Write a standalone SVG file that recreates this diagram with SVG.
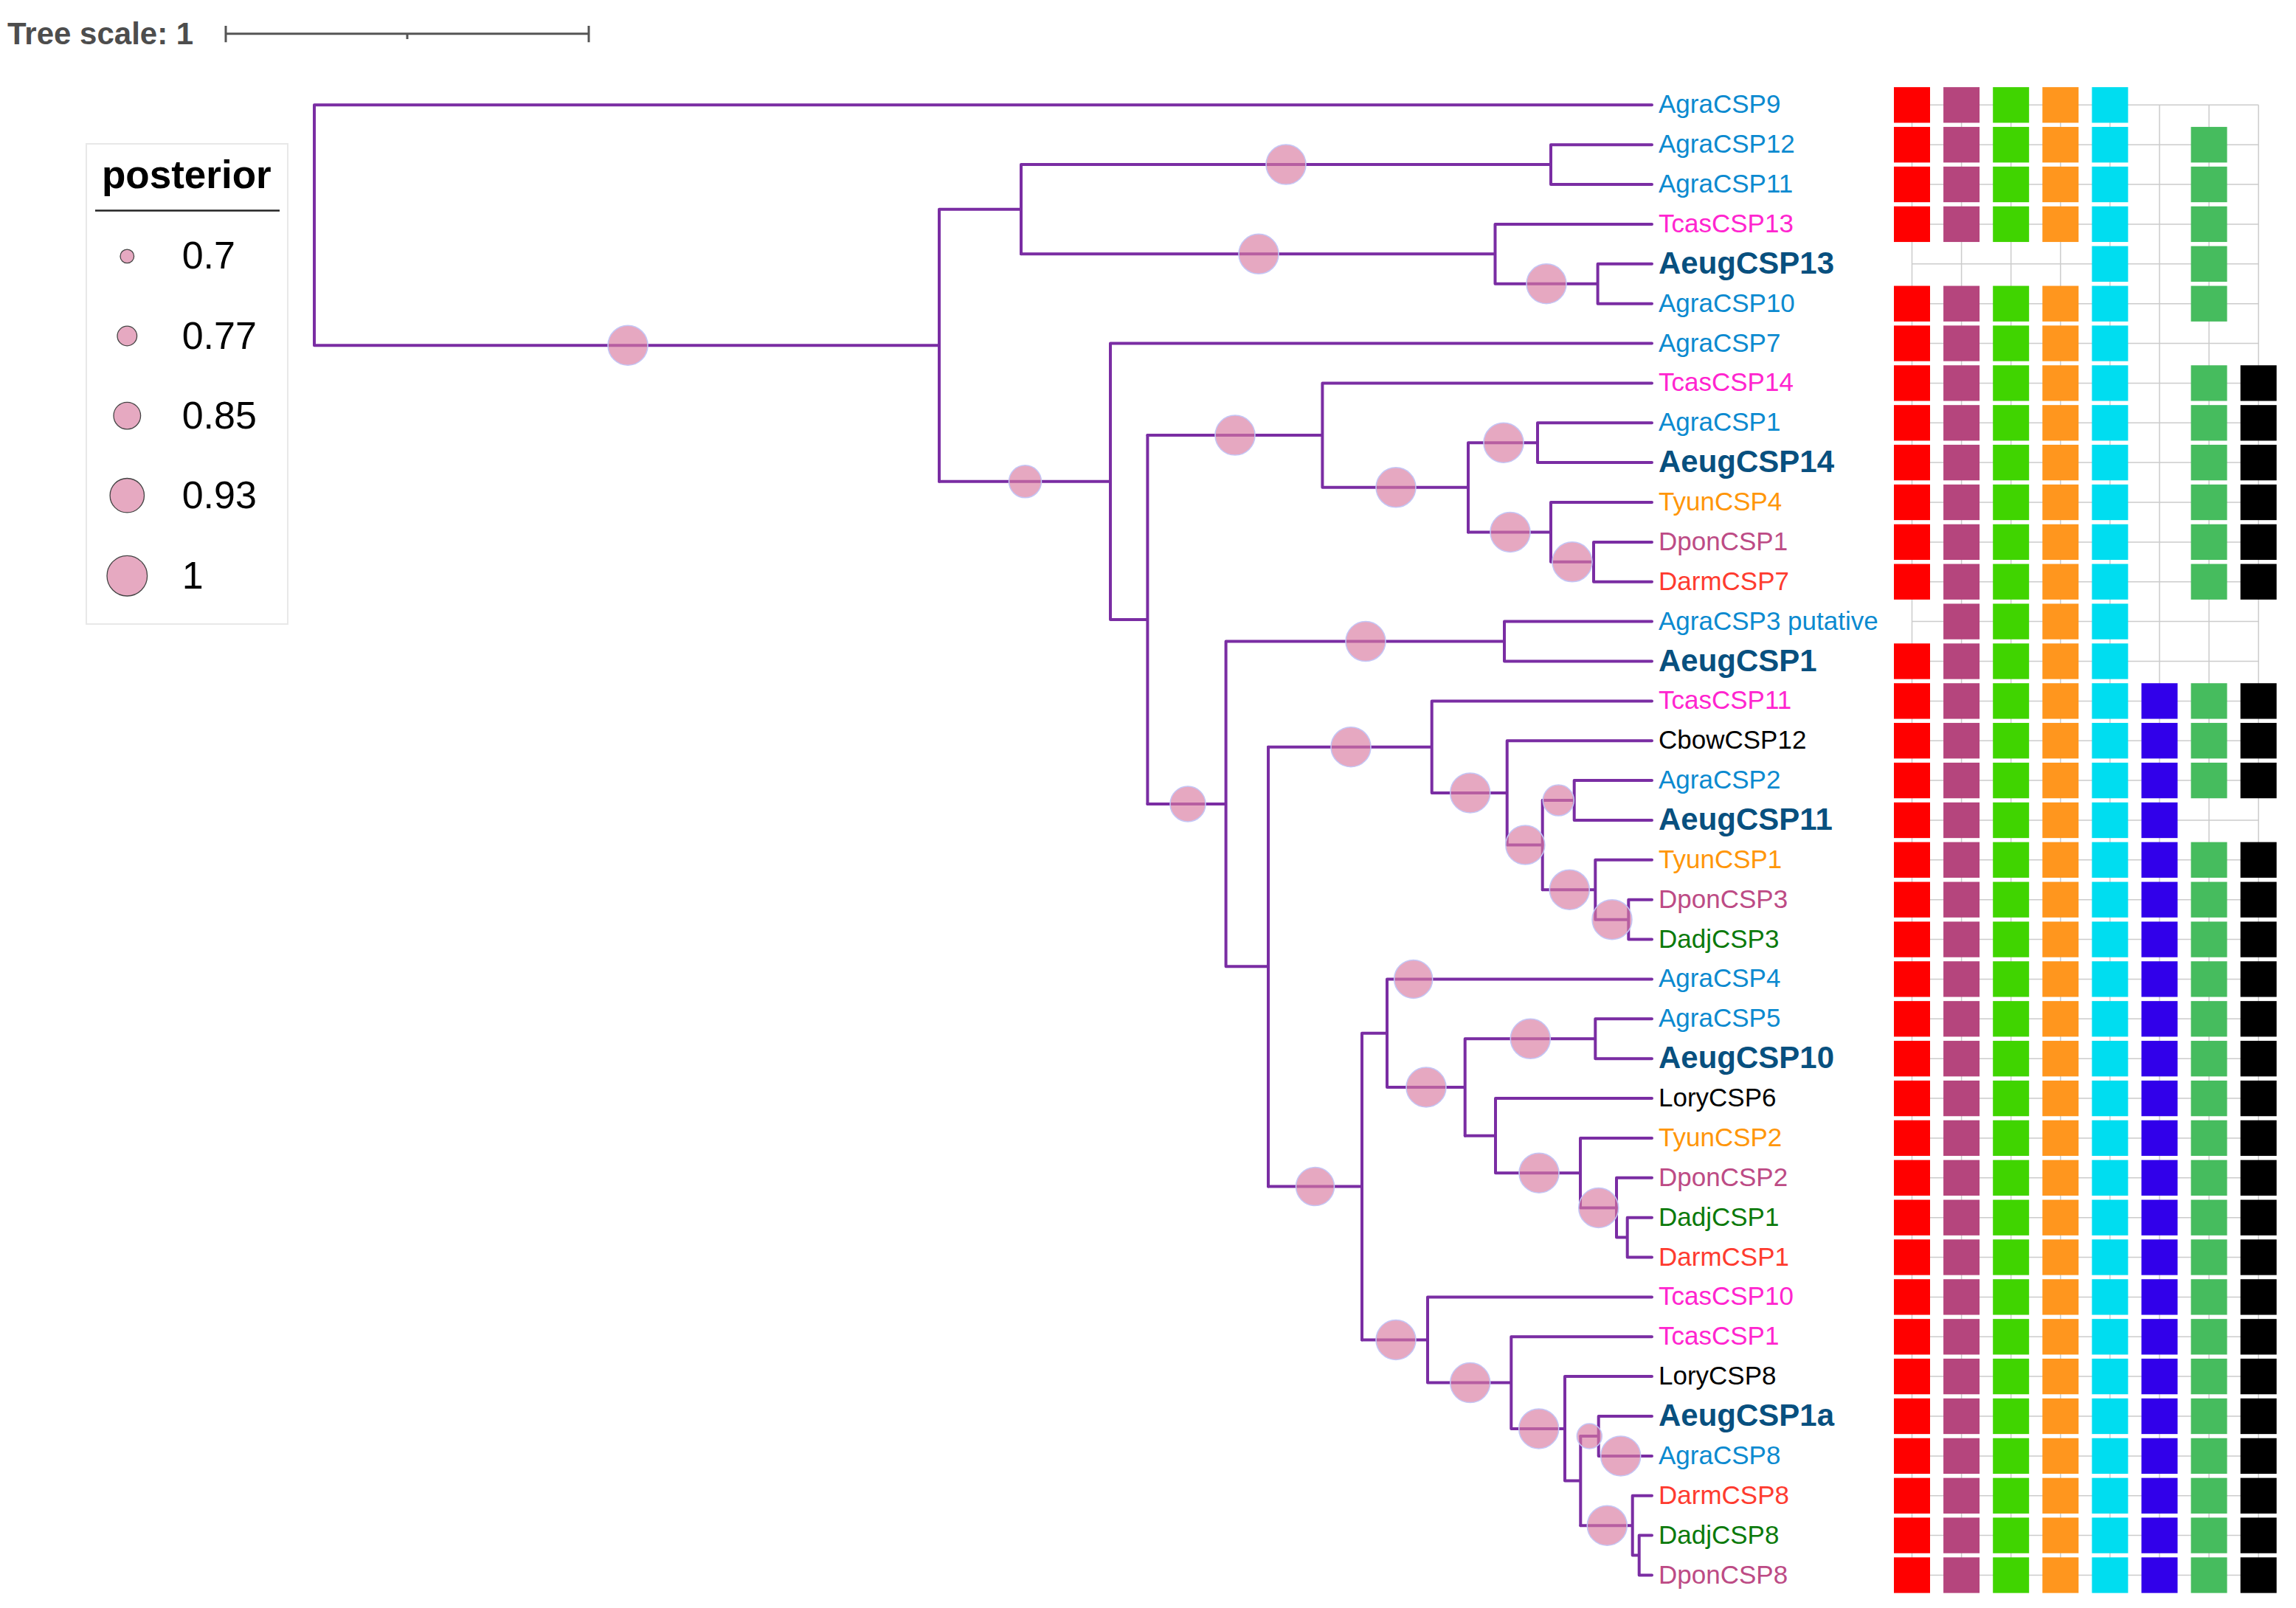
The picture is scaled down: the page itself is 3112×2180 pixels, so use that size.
<svg xmlns="http://www.w3.org/2000/svg" xmlns:xlink="http://www.w3.org/1999/xlink" width="3112" height="2180" viewBox="0 0 3112 2180">
<style>
.br{fill:none;stroke:#7a2da3;stroke-width:4;stroke-linecap:round;stroke-linejoin:miter}
.pp{fill:#d97aa0;fill-opacity:.65;stroke:#c4c6f6;stroke-width:1.5}
.lp{fill:#e6a9c1;stroke:#444;stroke-width:1.3}
.t{font-family:"Liberation Sans",Arial,sans-serif;font-size:35px}
.b{font-weight:bold;font-size:42px;fill:#08507f}
.agra{fill:#0b8ad0}.tcas{fill:#ff25cf}.tyun{fill:#ff9608}.dpon{fill:#bd4b85}.darm{fill:#fe3b2f}.dadj{fill:#0b7a0b}.blk{fill:#000}
.gr{stroke:#cccccc;stroke-width:1.5;fill:none}
.lg{font-family:"Liberation Sans",Arial,sans-serif;font-size:52px;fill:#000}
</style>
<defs>
<rect id="k1" x="2567" y="-24.15" width="49" height="48.3" fill="#ff0000"/>
<rect id="k2" x="2634.1" y="-24.15" width="49" height="48.3" fill="#b5457d"/>
<rect id="k3" x="2701.2" y="-24.15" width="49" height="48.3" fill="#40d400"/>
<rect id="k4" x="2768.3" y="-24.15" width="49" height="48.3" fill="#ff961e"/>
<rect id="k5" x="2835.4" y="-24.15" width="49" height="48.3" fill="#00ddf0"/>
<rect id="k6" x="2902.5" y="-24.15" width="49" height="48.3" fill="#3100ea"/>
<rect id="k7" x="2969.6" y="-24.15" width="49" height="48.3" fill="#46bc5e"/>
<rect id="k8" x="3036.7" y="-24.15" width="49" height="48.3" fill="#000000"/>
</defs>
<rect width="3112" height="2180" fill="#fff"/>

<g id="tree-scale">
<text x="10" y="60" font-family="Liberation Sans, Arial, sans-serif" font-size="42" font-weight="bold" fill="#4d4d4d">Tree scale: 1</text>
<path d="M306,45.7H798M306,35V57.3M798,35V57.3M552,45.7V53" stroke="#555" stroke-width="3" fill="none"/>
</g>

<g id="legend">
<rect x="117" y="195" width="273" height="651" fill="#fff" stroke="#e8e8e8" stroke-width="2"/>
<text x="138" y="255" font-family="Liberation Sans, Arial, sans-serif" font-size="53" font-weight="bold" fill="#000">posterior</text>
<line x1="129" y1="285.5" x2="379" y2="285.5" stroke="#222" stroke-width="2.5"/>
<circle class="lp" cx="172.3" cy="347.4" r="9.3"/><text class="lg" x="246.7" y="364.4">0.7</text>
<circle class="lp" cx="172.3" cy="455.5" r="13.3"/><text class="lg" x="246.7" y="472.5">0.77</text>
<circle class="lp" cx="172.3" cy="563.6" r="18.3"/><text class="lg" x="246.7" y="580.6">0.85</text>
<circle class="lp" cx="172.3" cy="671.7" r="23.2"/><text class="lg" x="246.7" y="688.7">0.93</text>
<circle class="lp" cx="172.3" cy="780.7" r="27.3"/><text class="lg" x="246.7" y="797.7">1</text>
</g>

<g id="grid" class="gr">
<path d="M2591.5,142.3V2135.5M2658.6,142.3V2135.5M2725.7,142.3V2135.5M2792.8,142.3V2135.5M2859.9,142.3V2135.5M2927,142.3V2135.5M2994.1,142.3V2135.5M3061.2,142.3V2135.5"/>
<path d="M2591.5,142.3H3061.2M2591.5,196.2H3061.2M2591.5,250H3061.2M2591.5,303.9H3061.2M2591.5,357.8H3061.2M2591.5,411.7H3061.2M2591.5,465.5H3061.2M2591.5,519.4H3061.2M2591.5,573.3H3061.2M2591.5,627.1H3061.2M2591.5,681H3061.2M2591.5,734.9H3061.2M2591.5,788.7H3061.2M2591.5,842.6H3061.2M2591.5,896.5H3061.2M2591.5,950.4H3061.2M2591.5,1004.2H3061.2M2591.5,1058.1H3061.2M2591.5,1112H3061.2M2591.5,1165.8H3061.2M2591.5,1219.7H3061.2M2591.5,1273.6H3061.2M2591.5,1327.4H3061.2M2591.5,1381.3H3061.2M2591.5,1435.2H3061.2M2591.5,1489.1H3061.2M2591.5,1542.9H3061.2M2591.5,1596.8H3061.2M2591.5,1650.7H3061.2M2591.5,1704.5H3061.2M2591.5,1758.4H3061.2M2591.5,1812.3H3061.2M2591.5,1866.1H3061.2M2591.5,1920H3061.2M2591.5,1973.9H3061.2M2591.5,2027.8H3061.2M2591.5,2081.6H3061.2M2591.5,2135.5H3061.2"/>
</g>

<g id="connectors" class="br">
<path d="M426,142.3V468.2M426,142.3H2239M426,468.2H1273"/>
<path d="M1273,283.7V652.8M1273,283.7H1384M1384,223.1V344.3M1384,223.1H2102M2102,196.2V250M2102,196.2H2239M2102,250H2239"/>
<path d="M1384,344.3H2026.5M2026.5,303.9V384.75M2026.5,303.9H2239M2026.5,384.75H2165.6M2165.6,357.8V411.7M2165.6,357.8H2239M2165.6,411.7H2239"/>
<path d="M1273,652.8H1505M1505,465.5V840M1505,465.5H2239M1505,840H1555.4M1555.4,590.1V1089.9"/>
<path d="M1555.4,590.1H1792.4M1792.4,519.4V660.8M1792.4,519.4H2239M1792.4,660.8H1990M1990,600.2V721.4M1990,600.2H2084M2084,573.3V627.1M2084,573.3H2239M2084,627.1H2239"/>
<path d="M1990,721.4H2102M2102,681V761.8M2102,681H2239M2102,761.8H2160M2160,734.9V788.7M2160,734.9H2239M2160,788.7H2239"/>
<path d="M1555.4,1089.9H1661.6M1661.6,869.55V1310.3M1661.6,869.55H2039M2039,842.6V896.5M2039,842.6H2239M2039,896.5H2239M1661.6,1310.3H1719M1719,1012.7V1608.6"/>
<path d="M1719,1012.7H1940.7M1940.7,950.4V1074.9M1940.7,950.4H2239M1940.7,1074.9H2042.7M2042.7,1004.2V1145.6M2042.7,1004.2H2239M2042.7,1145.6H2090.7M2090.7,1085.05V1206.2"/>
<path d="M2090.7,1085.05H2133.7M2133.7,1058.1V1112M2133.7,1058.1H2239M2133.7,1112H2239M2090.7,1206.2H2162.3M2162.3,1165.8V1246.65M2162.3,1165.8H2239M2162.3,1246.65H2207.3M2207.3,1219.7V1273.6M2207.3,1219.7H2239M2207.3,1273.6H2239"/>
<path d="M1719,1608.6H1846M1846,1400.7V1816.5M1846,1400.7H1880M1880,1327.4V1474M1880,1327.4H2239M1880,1474H1985.7M1985.7,1408.3V1539.7M1985.7,1408.3H2162.3M2162.3,1381.3V1435.2M2162.3,1381.3H2239M2162.3,1435.2H2239"/>
<path d="M1985.7,1539.7H2027M2027,1489.1V1590.2M2027,1489.1H2239M2027,1590.2H2142M2142,1542.9V1637.5M2142,1542.9H2239M2142,1637.5H2191M2191,1596.8V1677.6M2191,1596.8H2239M2191,1677.6H2205.7M2205.7,1650.7V1704.5M2205.7,1650.7H2239M2205.7,1704.5H2239"/>
<path d="M1846,1816.5H1935M1935,1758.4V1874.6M1935,1758.4H2239M1935,1874.6H2048.3M2048.3,1812.3V1936.9M2048.3,1812.3H2239M2048.3,1936.9H2121M2121,1866.1V2007.6M2121,1866.1H2239M2121,2007.6H2142.3M2142.3,1947V2068.2"/>
<path d="M2142.3,1947H2166.7M2166.7,1920V1973.9M2166.7,1920H2239M2166.7,1973.9H2239M2142.3,2068.2H2212.7M2212.7,2027.8V2108.6M2212.7,2027.8H2239M2212.7,2108.6H2221.7M2221.7,2081.6V2135.5M2221.7,2081.6H2239M2221.7,2135.5H2239"/>
</g>

<g id="posterior-nodes" class="pp">
<circle id="p-A" cx="851" cy="468.2" r="27"/>
<circle id="p-B1" cx="1743" cy="223.1" r="27"/>
<circle id="p-B2" cx="1706" cy="344.3" r="27"/>
<circle id="p-B3" cx="2096" cy="384.75" r="27"/>
<circle id="p-C" cx="1389.5" cy="652.8" r="22"/>
<circle id="p-D1" cx="1674" cy="590.1" r="27"/>
<circle id="p-E" cx="1892" cy="660.8" r="27"/>
<circle id="p-E1" cx="2038" cy="600.2" r="27"/>
<circle id="p-F" cx="2047" cy="721.4" r="27"/>
<circle id="p-F1" cx="2131" cy="761.8" r="27"/>
<circle id="p-G" cx="1610" cy="1089.9" r="24"/>
<circle id="p-G1" cx="1851" cy="869.55" r="27"/>
<circle id="p-I" cx="1831" cy="1012.7" r="27"/>
<circle id="p-J" cx="1992.7" cy="1074.9" r="27"/>
<circle id="p-K" cx="2067.3" cy="1145.6" r="26.5"/>
<circle id="p-L" cx="2112.3" cy="1085.05" r="21"/>
<circle id="p-M" cx="2127.3" cy="1206.2" r="27"/>
<circle id="p-N" cx="2185" cy="1246.65" r="27"/>
<circle id="p-O" cx="1782.5" cy="1608.6" r="26"/>
<circle id="p-AgraCSP4" cx="1915.7" cy="1327.4" r="26"/>
<circle id="p-R" cx="1933" cy="1474" r="27"/>
<circle id="p-R1" cx="2074.3" cy="1408.3" r="27"/>
<circle id="p-T" cx="2086" cy="1590.2" r="27"/>
<circle id="p-U" cx="2166.7" cy="1637.5" r="27"/>
<circle id="p-Q" cx="1892" cy="1816.5" r="27"/>
<circle id="p-W" cx="1992.7" cy="1874.6" r="27"/>
<circle id="p-X" cx="2085.7" cy="1936.9" r="27"/>
<circle id="p-Z1" cx="2154.3" cy="1947" r="17"/>
<circle id="p-AgraCSP8" cx="2196.7" cy="1973.9" r="27"/>
<circle id="p-Z2" cx="2178.3" cy="2068.2" r="27"/>
</g>

<g id="leaves" class="t">
<g id="AgraCSP9" transform="translate(0,142.3)"><text class="agra" x="2248" y="11">AgraCSP9</text><use href="#k1"/><use href="#k2"/><use href="#k3"/><use href="#k4"/><use href="#k5"/></g>
<g id="AgraCSP12" transform="translate(0,196.2)"><text class="agra" x="2248" y="11">AgraCSP12</text><use href="#k1"/><use href="#k2"/><use href="#k3"/><use href="#k4"/><use href="#k5"/><use href="#k7"/></g>
<g id="AgraCSP11" transform="translate(0,250)"><text class="agra" x="2248" y="11">AgraCSP11</text><use href="#k1"/><use href="#k2"/><use href="#k3"/><use href="#k4"/><use href="#k5"/><use href="#k7"/></g>
<g id="TcasCSP13" transform="translate(0,303.9)"><text class="tcas" x="2248" y="11">TcasCSP13</text><use href="#k1"/><use href="#k2"/><use href="#k3"/><use href="#k4"/><use href="#k5"/><use href="#k7"/></g>
<g id="AeugCSP13" transform="translate(0,357.8)"><text class="b" x="2248" y="13">AeugCSP13</text><use href="#k5"/><use href="#k7"/></g>
<g id="AgraCSP10" transform="translate(0,411.7)"><text class="agra" x="2248" y="11">AgraCSP10</text><use href="#k1"/><use href="#k2"/><use href="#k3"/><use href="#k4"/><use href="#k5"/><use href="#k7"/></g>
<g id="AgraCSP7" transform="translate(0,465.5)"><text class="agra" x="2248" y="11">AgraCSP7</text><use href="#k1"/><use href="#k2"/><use href="#k3"/><use href="#k4"/><use href="#k5"/></g>
<g id="TcasCSP14" transform="translate(0,519.4)"><text class="tcas" x="2248" y="11">TcasCSP14</text><use href="#k1"/><use href="#k2"/><use href="#k3"/><use href="#k4"/><use href="#k5"/><use href="#k7"/><use href="#k8"/></g>
<g id="AgraCSP1" transform="translate(0,573.3)"><text class="agra" x="2248" y="11">AgraCSP1</text><use href="#k1"/><use href="#k2"/><use href="#k3"/><use href="#k4"/><use href="#k5"/><use href="#k7"/><use href="#k8"/></g>
<g id="AeugCSP14" transform="translate(0,627.1)"><text class="b" x="2248" y="13">AeugCSP14</text><use href="#k1"/><use href="#k2"/><use href="#k3"/><use href="#k4"/><use href="#k5"/><use href="#k7"/><use href="#k8"/></g>
<g id="TyunCSP4" transform="translate(0,681)"><text class="tyun" x="2248" y="11">TyunCSP4</text><use href="#k1"/><use href="#k2"/><use href="#k3"/><use href="#k4"/><use href="#k5"/><use href="#k7"/><use href="#k8"/></g>
<g id="DponCSP1" transform="translate(0,734.9)"><text class="dpon" x="2248" y="11">DponCSP1</text><use href="#k1"/><use href="#k2"/><use href="#k3"/><use href="#k4"/><use href="#k5"/><use href="#k7"/><use href="#k8"/></g>
<g id="DarmCSP7" transform="translate(0,788.7)"><text class="darm" x="2248" y="11">DarmCSP7</text><use href="#k1"/><use href="#k2"/><use href="#k3"/><use href="#k4"/><use href="#k5"/><use href="#k7"/><use href="#k8"/></g>
<g id="AgraCSP3_putative" transform="translate(0,842.6)"><text class="agra" x="2248" y="11">AgraCSP3 putative</text><use href="#k2"/><use href="#k3"/><use href="#k4"/><use href="#k5"/></g>
<g id="AeugCSP1" transform="translate(0,896.5)"><text class="b" x="2248" y="13">AeugCSP1</text><use href="#k1"/><use href="#k2"/><use href="#k3"/><use href="#k4"/><use href="#k5"/></g>
<g id="TcasCSP11" transform="translate(0,950.4)"><text class="tcas" x="2248" y="11">TcasCSP11</text><use href="#k1"/><use href="#k2"/><use href="#k3"/><use href="#k4"/><use href="#k5"/><use href="#k6"/><use href="#k7"/><use href="#k8"/></g>
<g id="CbowCSP12" transform="translate(0,1004.2)"><text class="blk" x="2248" y="11">CbowCSP12</text><use href="#k1"/><use href="#k2"/><use href="#k3"/><use href="#k4"/><use href="#k5"/><use href="#k6"/><use href="#k7"/><use href="#k8"/></g>
<g id="AgraCSP2" transform="translate(0,1058.1)"><text class="agra" x="2248" y="11">AgraCSP2</text><use href="#k1"/><use href="#k2"/><use href="#k3"/><use href="#k4"/><use href="#k5"/><use href="#k6"/><use href="#k7"/><use href="#k8"/></g>
<g id="AeugCSP11" transform="translate(0,1112)"><text class="b" x="2248" y="13">AeugCSP11</text><use href="#k1"/><use href="#k2"/><use href="#k3"/><use href="#k4"/><use href="#k5"/><use href="#k6"/></g>
<g id="TyunCSP1" transform="translate(0,1165.8)"><text class="tyun" x="2248" y="11">TyunCSP1</text><use href="#k1"/><use href="#k2"/><use href="#k3"/><use href="#k4"/><use href="#k5"/><use href="#k6"/><use href="#k7"/><use href="#k8"/></g>
<g id="DponCSP3" transform="translate(0,1219.7)"><text class="dpon" x="2248" y="11">DponCSP3</text><use href="#k1"/><use href="#k2"/><use href="#k3"/><use href="#k4"/><use href="#k5"/><use href="#k6"/><use href="#k7"/><use href="#k8"/></g>
<g id="DadjCSP3" transform="translate(0,1273.6)"><text class="dadj" x="2248" y="11">DadjCSP3</text><use href="#k1"/><use href="#k2"/><use href="#k3"/><use href="#k4"/><use href="#k5"/><use href="#k6"/><use href="#k7"/><use href="#k8"/></g>
<g id="AgraCSP4" transform="translate(0,1327.4)"><text class="agra" x="2248" y="11">AgraCSP4</text><use href="#k1"/><use href="#k2"/><use href="#k3"/><use href="#k4"/><use href="#k5"/><use href="#k6"/><use href="#k7"/><use href="#k8"/></g>
<g id="AgraCSP5" transform="translate(0,1381.3)"><text class="agra" x="2248" y="11">AgraCSP5</text><use href="#k1"/><use href="#k2"/><use href="#k3"/><use href="#k4"/><use href="#k5"/><use href="#k6"/><use href="#k7"/><use href="#k8"/></g>
<g id="AeugCSP10" transform="translate(0,1435.2)"><text class="b" x="2248" y="13">AeugCSP10</text><use href="#k1"/><use href="#k2"/><use href="#k3"/><use href="#k4"/><use href="#k5"/><use href="#k6"/><use href="#k7"/><use href="#k8"/></g>
<g id="LoryCSP6" transform="translate(0,1489.1)"><text class="blk" x="2248" y="11">LoryCSP6</text><use href="#k1"/><use href="#k2"/><use href="#k3"/><use href="#k4"/><use href="#k5"/><use href="#k6"/><use href="#k7"/><use href="#k8"/></g>
<g id="TyunCSP2" transform="translate(0,1542.9)"><text class="tyun" x="2248" y="11">TyunCSP2</text><use href="#k1"/><use href="#k2"/><use href="#k3"/><use href="#k4"/><use href="#k5"/><use href="#k6"/><use href="#k7"/><use href="#k8"/></g>
<g id="DponCSP2" transform="translate(0,1596.8)"><text class="dpon" x="2248" y="11">DponCSP2</text><use href="#k1"/><use href="#k2"/><use href="#k3"/><use href="#k4"/><use href="#k5"/><use href="#k6"/><use href="#k7"/><use href="#k8"/></g>
<g id="DadjCSP1" transform="translate(0,1650.7)"><text class="dadj" x="2248" y="11">DadjCSP1</text><use href="#k1"/><use href="#k2"/><use href="#k3"/><use href="#k4"/><use href="#k5"/><use href="#k6"/><use href="#k7"/><use href="#k8"/></g>
<g id="DarmCSP1" transform="translate(0,1704.5)"><text class="darm" x="2248" y="11">DarmCSP1</text><use href="#k1"/><use href="#k2"/><use href="#k3"/><use href="#k4"/><use href="#k5"/><use href="#k6"/><use href="#k7"/><use href="#k8"/></g>
<g id="TcasCSP10" transform="translate(0,1758.4)"><text class="tcas" x="2248" y="11">TcasCSP10</text><use href="#k1"/><use href="#k2"/><use href="#k3"/><use href="#k4"/><use href="#k5"/><use href="#k6"/><use href="#k7"/><use href="#k8"/></g>
<g id="TcasCSP1" transform="translate(0,1812.3)"><text class="tcas" x="2248" y="11">TcasCSP1</text><use href="#k1"/><use href="#k2"/><use href="#k3"/><use href="#k4"/><use href="#k5"/><use href="#k6"/><use href="#k7"/><use href="#k8"/></g>
<g id="LoryCSP8" transform="translate(0,1866.1)"><text class="blk" x="2248" y="11">LoryCSP8</text><use href="#k1"/><use href="#k2"/><use href="#k3"/><use href="#k4"/><use href="#k5"/><use href="#k6"/><use href="#k7"/><use href="#k8"/></g>
<g id="AeugCSP1a" transform="translate(0,1920)"><text class="b" x="2248" y="13">AeugCSP1a</text><use href="#k1"/><use href="#k2"/><use href="#k3"/><use href="#k4"/><use href="#k5"/><use href="#k6"/><use href="#k7"/><use href="#k8"/></g>
<g id="AgraCSP8" transform="translate(0,1973.9)"><text class="agra" x="2248" y="11">AgraCSP8</text><use href="#k1"/><use href="#k2"/><use href="#k3"/><use href="#k4"/><use href="#k5"/><use href="#k6"/><use href="#k7"/><use href="#k8"/></g>
<g id="DarmCSP8" transform="translate(0,2027.8)"><text class="darm" x="2248" y="11">DarmCSP8</text><use href="#k1"/><use href="#k2"/><use href="#k3"/><use href="#k4"/><use href="#k5"/><use href="#k6"/><use href="#k7"/><use href="#k8"/></g>
<g id="DadjCSP8" transform="translate(0,2081.6)"><text class="dadj" x="2248" y="11">DadjCSP8</text><use href="#k1"/><use href="#k2"/><use href="#k3"/><use href="#k4"/><use href="#k5"/><use href="#k6"/><use href="#k7"/><use href="#k8"/></g>
<g id="DponCSP8" transform="translate(0,2135.5)"><text class="dpon" x="2248" y="11">DponCSP8</text><use href="#k1"/><use href="#k2"/><use href="#k3"/><use href="#k4"/><use href="#k5"/><use href="#k6"/><use href="#k7"/><use href="#k8"/></g>
</g>
</svg>
